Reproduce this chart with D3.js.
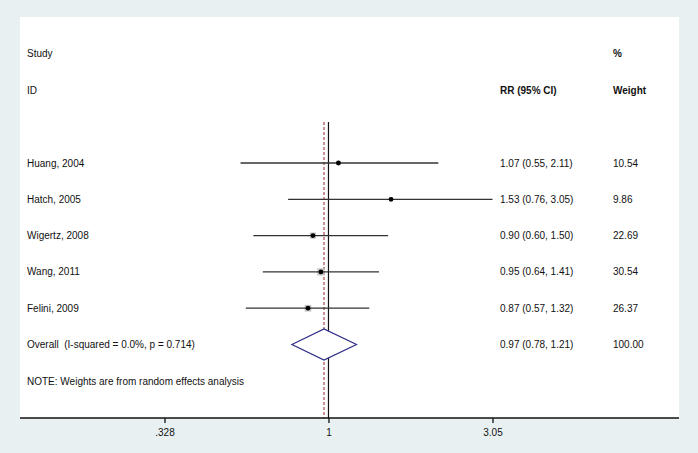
<!DOCTYPE html>
<html>
<head>
<meta charset="utf-8">
<script src="https://cdn.jsdelivr.net/npm/d3@7"></script>
<style>
  body { margin: 0; background: #e9f0f1; }
  text { font-family: "Liberation Sans", Arial, sans-serif; fill: #111; }
</style>
</head>
<body>
<div id="chart"></div>
<script>
// Study data
const studies = ["Huang, 2004", "Hatch, 2005", "Wigertz, 2008", "Wang, 2011", "Felini, 2009"];
const rr = [1.07, 1.53, 0.90, 0.95, 0.87];
const lower = [0.55, 0.76, 0.60, 0.64, 0.57];
const upper = [2.11, 3.05, 1.50, 1.41, 1.32];
const weights = ["10.54", "9.86", "22.69", "30.54", "26.37"];
const ciLabels = ["1.07 (0.55, 2.11)", "1.53 (0.76, 3.05)", "0.90 (0.60, 1.50)", "0.95 (0.64, 1.41)", "0.87 (0.57, 1.32)"];

// Overall (random effects)
const overallLabel = "Overall  (I-squared = 0.0%, p = 0.714)";
const overall = {rr: 0.97, lo: 0.78, hi: 1.21, ci: "0.97 (0.78, 1.21)", w: "100.00"};

const tickValues = [0.328, 1, 3.05];
const tickLabels = [".328", "1", "3.05"];

const width = 698, height = 453;
const panel = {left: 20, right: 679, top: 17, bottom: 418};
const colText = 27, colCI = 500, colW = 613;

const svg = d3.select("#chart").append("svg")
  .attr("width", width)
  .attr("height", height);

// white plot region
svg.append("rect")
  .attr("x", panel.left).attr("y", panel.top)
  .attr("width", panel.right - panel.left)
  .attr("height", panel.bottom - panel.top)
  .attr("fill", "#fff");

// Scales
const x = d3.scaleLog().domain([0.328, 3.05]).range([164.5, 492.5]);
const rows = studies.concat([overallLabel]);
const y = d3.scalePoint().domain(d3.range(rows.length)).range([163, 344.5]);
const side = d3.scaleSqrt().domain([0, 30.54]).range([0, 7.2]);

// Headers
svg.append("text").attr("x", colText).attr("y", 57).attr("font-size", 10).text("Study");
svg.append("text").attr("x", colText).attr("y", 94).attr("font-size", 10).text("ID");
svg.append("text").attr("x", colCI).attr("y", 94).attr("font-size", 10).attr("font-weight", "bold").text("RR (95% CI)");
svg.append("text").attr("x", colW).attr("y", 57).attr("font-size", 10).attr("font-weight", "bold").text("%");
svg.append("text").attr("x", colW).attr("y", 94).attr("font-size", 10).attr("font-weight", "bold").text("Weight");

// null line and overall dashed line
const lineTop = 122;
svg.append("line")
  .attr("x1", x(1)).attr("x2", x(1))
  .attr("y1", lineTop).attr("y2", panel.bottom)
  .attr("stroke", "#111").attr("stroke-width", 1.2);
svg.append("line")
  .attr("x1", x(overall.rr)).attr("x2", x(overall.rr))
  .attr("y1", lineTop).attr("y2", panel.bottom)
  .attr("stroke", "#a0383c").attr("stroke-width", 1.1)
  .attr("stroke-dasharray", "3,2");

// Study rows
const g = svg.append("g");
studies.forEach((s, i) => {
  const cy = y(i);
  const sz = side(+weights[i]);
  g.append("rect")
    .attr("x", x(rr[i]) - sz / 2).attr("y", cy - sz / 2)
    .attr("width", sz).attr("height", sz)
    .attr("fill", "#c4c4c4");
  g.append("line")
    .attr("x1", x(lower[i])).attr("x2", x(upper[i]))
    .attr("y1", cy).attr("y2", cy)
    .attr("stroke", "#333").attr("stroke-width", 1.3);
  g.append("circle")
    .attr("cx", x(rr[i])).attr("cy", cy).attr("r", 2.4)
    .attr("fill", "#000");
  g.append("text").attr("x", colText).attr("y", cy + 3.5).attr("font-size", 10).text(s);
  g.append("text").attr("x", colCI).attr("y", cy + 3.5).attr("font-size", 10).text(ciLabels[i]);
  g.append("text").attr("x", colW).attr("y", cy + 3.5).attr("font-size", 10).text(weights[i]);
});

// Overall diamond
const oy = y(studies.length);
const dh = 15.5;
svg.append("path")
  .attr("d", `M${x(overall.lo)},${oy} L${x(overall.rr)},${oy - dh} L${x(overall.hi)},${oy} L${x(overall.rr)},${oy + dh} Z`)
  .attr("fill", "#fff")
  .attr("stroke", "#2e2e86").attr("stroke-width", 1.2);
svg.append("text").attr("x", colText).attr("y", oy + 3.5).attr("font-size", 10).text(overallLabel).attr("xml:space", "preserve");
svg.append("text").attr("x", colCI).attr("y", oy + 3.5).attr("font-size", 10).text(overall.ci);
svg.append("text").attr("x", colW).attr("y", oy + 3.5).attr("font-size", 10).text(overall.w);

// Note
svg.append("text").attr("x", colText).attr("y", 384.5).attr("font-size", 10)
  .text("NOTE: Weights are from random effects analysis");

// Axis
svg.append("line")
  .attr("x1", panel.left).attr("x2", panel.right)
  .attr("y1", panel.bottom).attr("y2", panel.bottom)
  .attr("stroke", "#111").attr("stroke-width", 1.5);

const xaxis = d3.axisBottom(x)
  .tickValues(tickValues)
  .tickFormat((d, i) => tickLabels[i])
  .tickSize(5)
  .tickPadding(6);
const gx = svg.append("g")
  .attr("transform", `translate(0, ${panel.bottom})`)
  .call(xaxis);
gx.select(".domain").remove();
gx.selectAll(".tick line").attr("stroke", "#111").attr("stroke-width", 1.3);
gx.selectAll(".tick text")
  .attr("font-size", 10)
  .attr("font-family", "Liberation Sans, Arial, sans-serif")
  .attr("fill", "#111");
</script>
</body>
</html>
